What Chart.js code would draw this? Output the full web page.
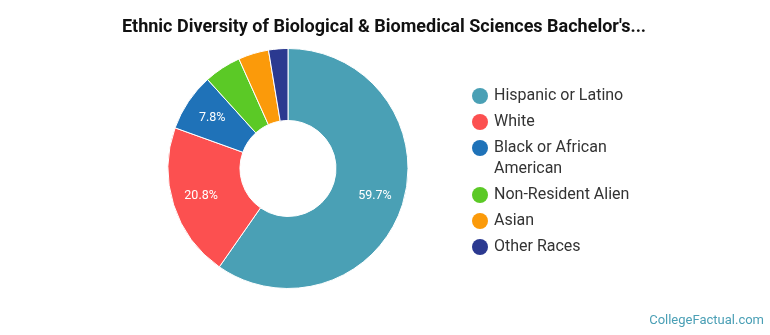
<!DOCTYPE html>
<html>
<head>
<meta charset="utf-8">
<script src="https://cdn.jsdelivr.net/npm/chart.js@4/dist/chart.umd.min.js"></script>
<style>
    body { margin: 0; background: #fff; }
    canvas { display: block; }
</style>
</head>
<body>
<canvas id="ethnic-chart" width="770" height="335"></canvas>
<script>
var chartTitle = "Ethnic Diversity of Biological & Biomedical Sciences Bachelor's...";
var categories = ['Hispanic or Latino', 'White', 'Black or African American', 'Non-Resident Alien', 'Asian', 'Other Races'];
var legendLines = [['Hispanic or Latino'], ['White'], ['Black or African', 'American'], ['Non-Resident Alien'], ['Asian'], ['Other Races']];
var shares = [59.7, 20.8, 7.8, 5.0, 4.1, 2.6];
var sliceColors = ['#4aa0b5', '#fc5050', '#1f72b8', '#5bc926', '#fb9a0a', '#2b3990'];
var sourceText = 'CollegeFactual.com';

// title, legend, footer and slice labels drawn by hand
var extrasPlugin = {
    id: 'extras',
    afterDraw: function (chart) {
        "use strict";
        var ctx = chart.ctx;
        ctx.save();

        ctx.fillStyle = '#111';
        ctx.font = 'bold 18px Roboto';
        ctx.textAlign = 'center';
        ctx.textBaseline = 'middle';
        ctx.fillText(chartTitle, 384, 27);

        // percentage labels on the bigger slices
        var meta = chart.getDatasetMeta(0);
        ctx.font = '12.5px Roboto';
        ctx.fillStyle = '#fff';
        meta.data.forEach(function (arc, i) {
            if (shares[i] < 7) {
                return;
            }
            var p = arc.getProps(['x', 'y', 'startAngle', 'endAngle', 'innerRadius', 'outerRadius'], true);
            var mid = (p.startAngle + p.endAngle) / 2;
            var r = p.innerRadius + (p.outerRadius - p.innerRadius) * 0.6;
            ctx.fillText(shares[i].toFixed(1) + '%', p.x + Math.cos(mid) * r, p.y + Math.sin(mid) * r);
        });

        // legend
        ctx.textAlign = 'left';
        ctx.font = '16px Roboto';
        var y = 96;
        for (var i = 0; i < legendLines.length; i++) {
            ctx.fillStyle = sliceColors[i];
            ctx.beginPath();
            ctx.arc(480, y, 8, 0, Math.PI * 2);
            ctx.fill();
            ctx.fillStyle = '#333';
            for (var j = 0; j < legendLines[i].length; j++) {
                ctx.fillText(legendLines[i][j], 494, y + j * 21);
            }
            y += 26 + (legendLines[i].length - 1) * 21;
        }

        ctx.font = '13px Roboto';
        ctx.fillStyle = '#4a9fb5';
        ctx.textAlign = 'right';
        ctx.fillText(sourceText, 764, 321);
        ctx.restore();
    }
};

var ctx = document.getElementById('ethnic-chart').getContext('2d');
var ethnicChart = new Chart(ctx, {
    type: 'doughnut',
    data: {
        labels: categories,
        datasets: [{
            data: shares,
            backgroundColor: sliceColors,
            borderColor: '#fff',
            borderWidth: 1
        }]
    },
    options: {
        responsive: false,
        animation: false,
        cutout: '40%',
        layout: { padding: { left: 167, right: 361, top: 48, bottom: 46 } },
        plugins: {
            legend: { display: false },
            tooltip: { enabled: false }
        }
    },
    plugins: [extrasPlugin]
});
</script>
</body>
</html>
